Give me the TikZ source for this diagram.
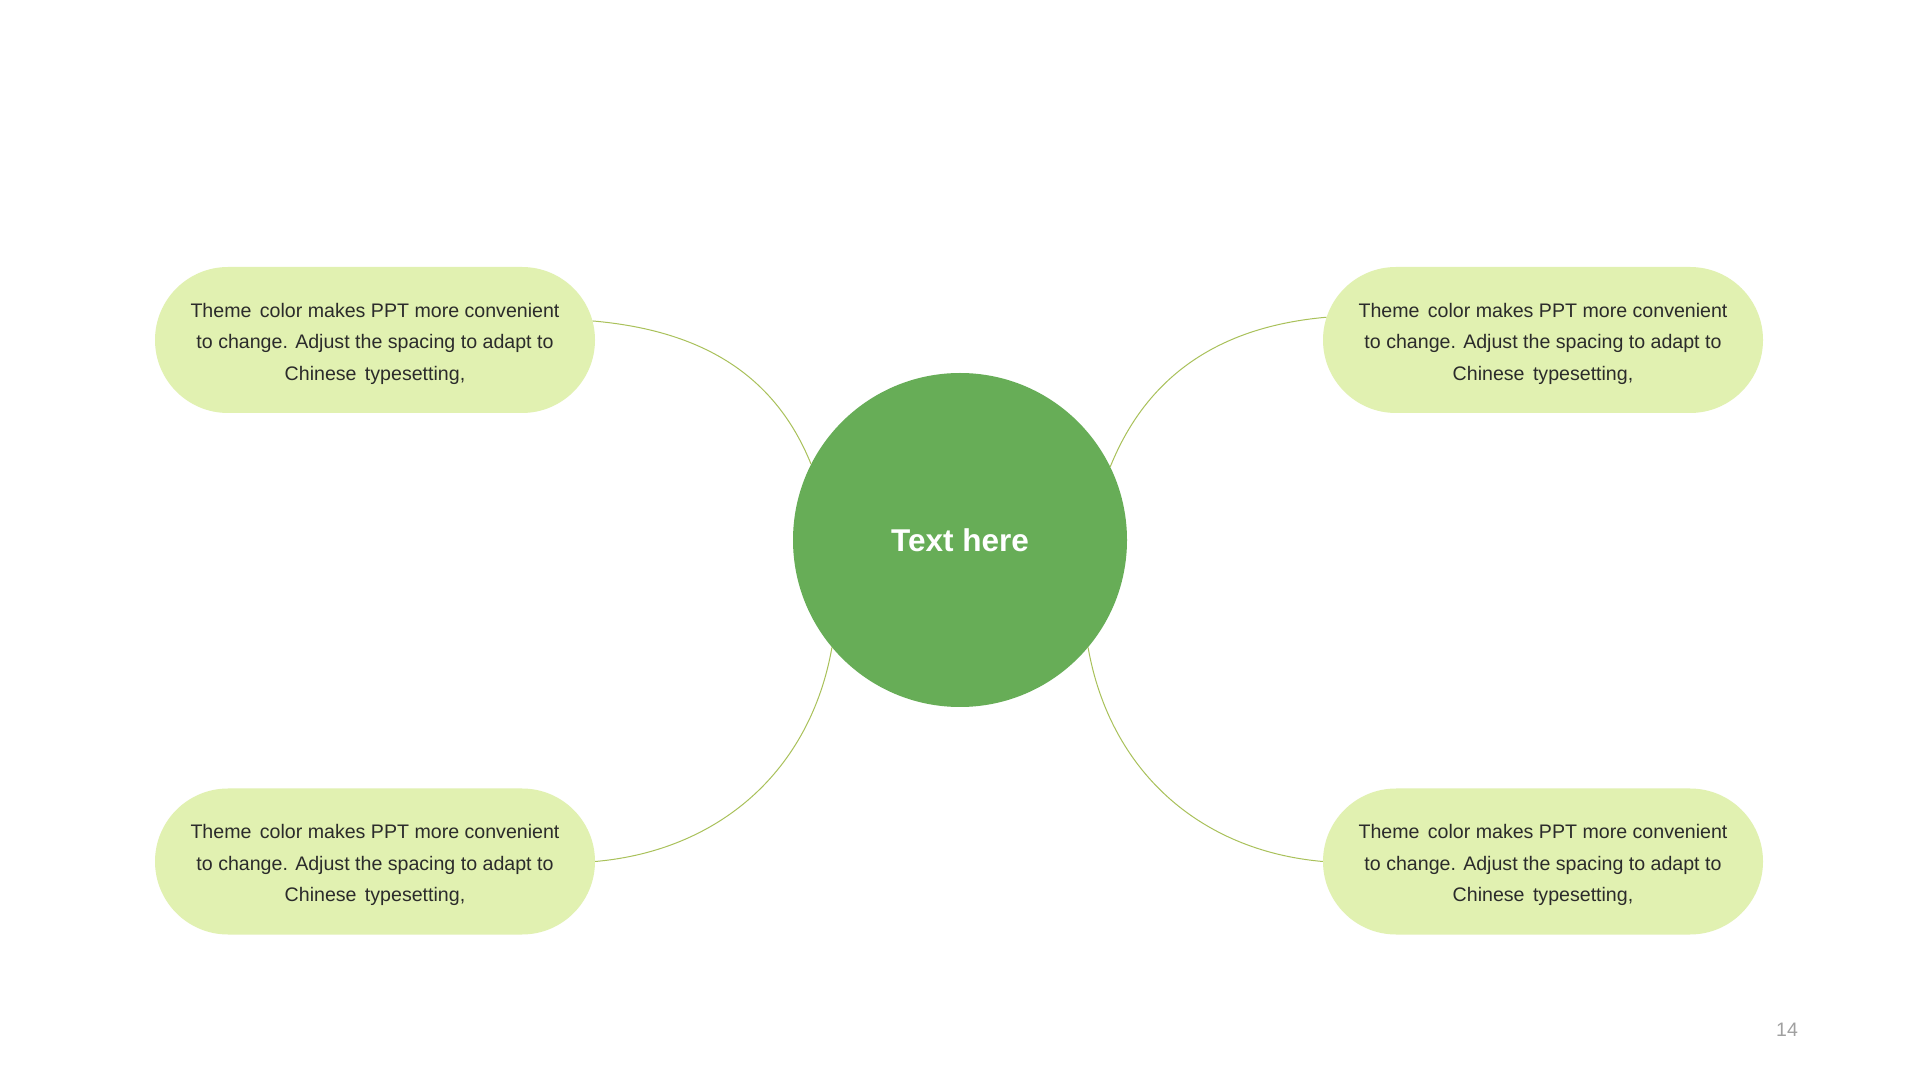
\documentclass[tikz,border=0pt]{standalone}
\usepackage{fontspec}
\setmainfont{Liberation Sans}
\usetikzlibrary{shapes.misc}
\definecolor{hubgreen}{HTML}{67AD57}
\definecolor{pillfill}{HTML}{E1F1B1}
\definecolor{linkcol}{HTML}{A9C15A}
\definecolor{bodytext}{HTML}{2B2B2B}
\definecolor{pagegray}{HTML}{A0A0A0}
\tikzset{
  pill/.style={rounded rectangle, fill=pillfill, draw=none,
    minimum width=440pt, minimum height=146pt, inner sep=0pt,
    align=center, text=bodytext,
    font=\fontsize{19.6pt}{31.5pt}\selectfont},
  hub/.style={circle, fill=hubgreen, draw=none, minimum size=334pt,
    inner sep=0pt, text=white, font=\fontsize{31.5pt}{36pt}\selectfont\bfseries},
  link/.style={draw=linkcol, line width=1pt},
  pagenum/.style={text=pagegray, font=\fontsize{19.5pt}{22pt}\selectfont}
}
\newcommand{\pilltext}{\rule{0pt}{21.5pt}Theme\hspace{0.15em} color makes PPT more convenient\\to change. Adjust the spacing to adapt to\\Chinese\hspace{0.15em} typesetting,}
\begin{document}
\begin{tikzpicture}[x=1pt,y=1pt]
\fill[white] (0,0) rectangle (1920,1080);
\useasboundingbox (0,0) rectangle (1920,1080);

\node[hub] (c) at (960,540) {Text here};

\node[pill] (tl) at (375,740) {\pilltext};
\node[pill] (bl) at (375,218.5) {\pilltext};
\node[pill] (tr) at (1543,740) {\pilltext};
\node[pill] (br) at (1543,218.5) {\pilltext};

\draw[link] (tl.5.5) to[out=-5, in=112] (c.153.4);
\draw[link] (bl.east) to[out=5, in=260] (c.220.2);
\draw[link] (tr.174.5) to[out=185, in=68] (c.26.6);
\draw[link] (br.west) to[out=175, in=280] (c.-40.2);

\node[pagenum] (pg) at (1787,50) {14};
\end{tikzpicture}
\end{document}
